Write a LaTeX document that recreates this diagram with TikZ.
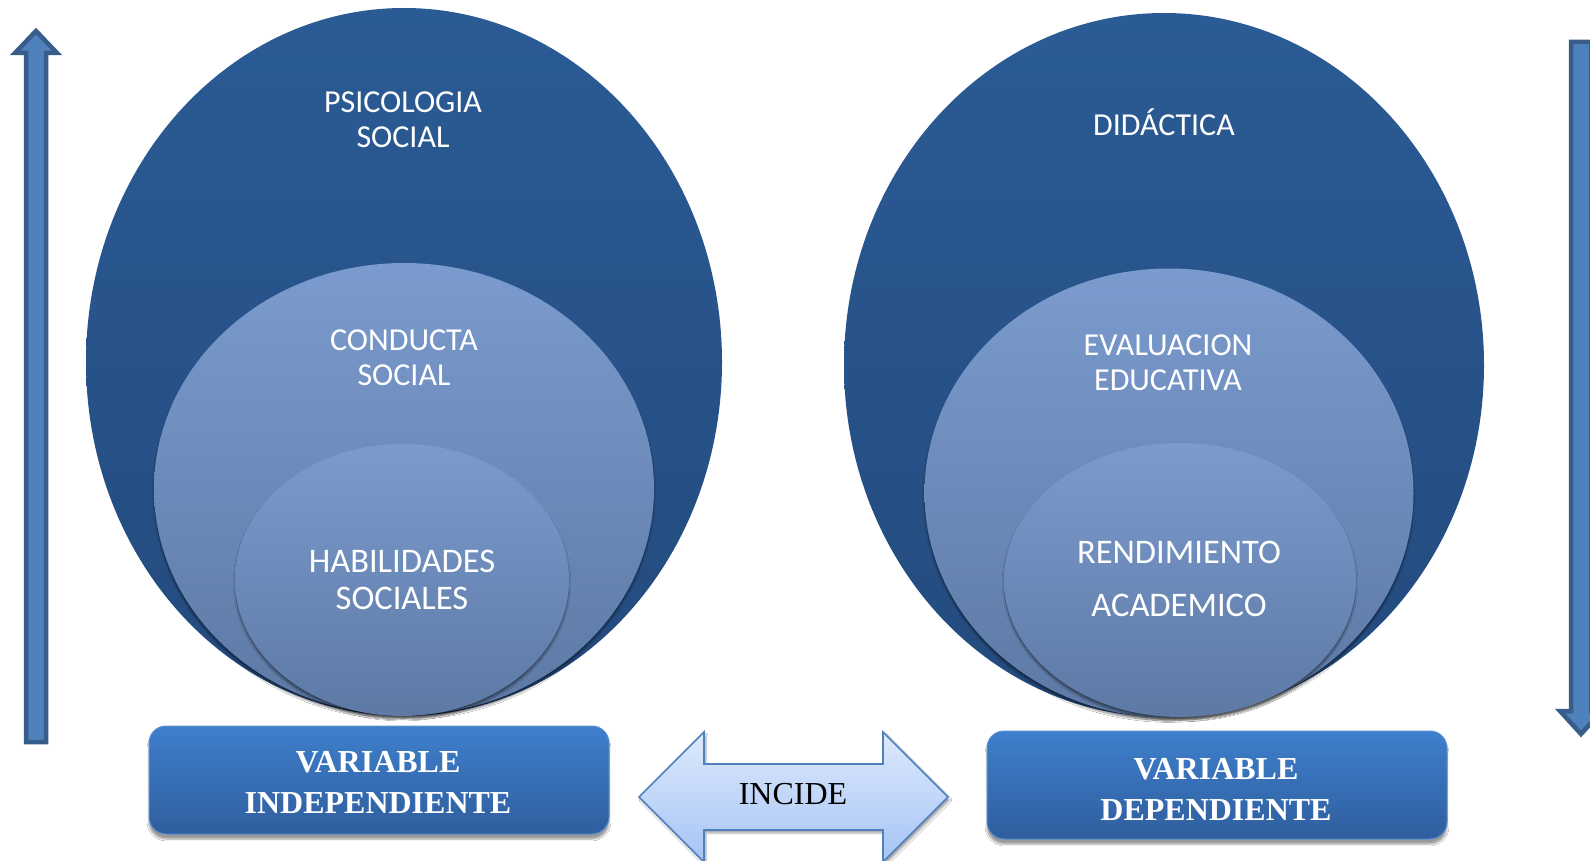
\documentclass[tikz,border=0pt]{standalone}
\usepackage{fontspec}
\setmainfont{Liberation Serif}
\newfontfamily\calib{Carlito}
\usetikzlibrary{shapes.geometric,shadows.blur}
\definecolor{outerTop}{HTML}{2B5B95}
\definecolor{outerBot}{HTML}{234A7D}
\definecolor{midTop}{HTML}{7B9BCE}
\definecolor{midBot}{HTML}{5D79A4}
\definecolor{boxTop}{HTML}{3E7FCC}
\definecolor{boxBot}{HTML}{2F5E9E}
\definecolor{boxLine}{HTML}{5B8FD0}
\definecolor{arrFill}{HTML}{4F81BD}
\definecolor{arrLine}{HTML}{385D8A}
\definecolor{incTop}{HTML}{DDE9FC}
\definecolor{incBot}{HTML}{A6C4F5}
\definecolor{incLine}{HTML}{4F81BD}
\begin{document}
\begin{tikzpicture}[x=1pt,y=-1pt,
  ellbase/.style={ellipse, inner sep=0pt, draw=none},
  bigell/.style={ellbase, top color=outerTop, bottom color=outerBot},
  midell/.style={ellbase, top color=midTop, bottom color=midBot,
     blur shadow={shadow xshift=0pt, shadow yshift=-3pt, shadow blur steps=6, shadow opacity=45}},
  lbl/.style={text=white, align=center, inner sep=0pt, font=\calib\fontsize{32}{35}\selectfont},
  varbox/.style={rectangle, rounded corners=17pt, minimum width=460pt, minimum height=108pt,
     top color=boxTop, bottom color=boxBot, draw=boxLine, line width=1pt,
     blur shadow={shadow xshift=0pt, shadow yshift=-5pt, shadow blur steps=6, shadow opacity=40}},
  vartext/.style={text=white, align=center, inner sep=0pt, font=\bfseries\fontsize{32}{41}\selectfont},
  bigarrow/.style={fill=arrFill, draw=arrLine, line width=4.5pt, line join=miter},
  incarrow/.style={top color=incTop, bottom color=incBot, draw=incLine, line width=1.6pt, line join=miter,
     blur shadow={shadow xshift=2pt, shadow yshift=-3pt, shadow blur steps=5, shadow opacity=35}}
]
\useasboundingbox (0,0) rectangle (1590,861);
\fill[white] (0,0) rectangle (1590,861);

% left vertical arrow (up)
\draw[bigarrow] (26,742) -- (26,53) -- (15,53) -- (36,31) -- (57,53) -- (46,53) -- (46,742) -- cycle;
% right vertical arrow (down)
\draw[bigarrow] (1571,42) -- (1571,711) -- (1560,711) -- (1581,734) -- (1602,711) -- (1591,711) -- (1591,42) -- cycle;

% left group of ellipses
\node[bigell, minimum width=636pt, minimum height=708pt] (psi) at (404,362) {};
\node[midell, minimum width=500pt, minimum height=452pt] (con) at (404,489) {};
\node[midell, minimum width=334pt, minimum height=272pt] (hab) at (402,580) {};
\node[lbl] (tpsi) at (403,120) {PSICOLOGIA\\SOCIAL};
\node[lbl] (tcon) at (404,358) {CONDUCTA\\SOCIAL};
\node[lbl, font=\calib\fontsize{34.5}{37}\selectfont] (thab) at (402,580) {HABILIDADES\\SOCIALES};

% right group of ellipses
\node[bigell, minimum width=640pt, minimum height=704pt] (did) at (1164,365) {};
\node[midell, minimum width=489pt, minimum height=449pt] (eva) at (1169,493) {};
\node[midell, minimum width=352pt, minimum height=274pt] (ren) at (1180,580) {};
\node[lbl] (tdid) at (1164,122) {DIDÁCTICA};
\node[lbl] (teva) at (1168,363) {EVALUACION\\EDUCATIVA};
\node[lbl, font=\calib\fontsize{34.5}{53}\selectfont] (tren) at (1179,579) {RENDIMIENTO\\ACADEMICO};

% variable boxes
\node[varbox] (vi) at (379,780) {};
\node[vartext] (tvi) at (378,782) {VARIABLE\\INDEPENDIENTE};
\node[varbox] (vd) at (1217,785) {};
\node[vartext] (tvd) at (1216,789) {VARIABLE\\DEPENDIENTE};

% INCIDE double arrow
\draw[incarrow] (639,797) -- (704,732) -- (704,764) -- (883,764) -- (883,732) -- (948,797)
   -- (883,862) -- (883,830) -- (704,830) -- (704,862) -- cycle;
\node[font=\fontsize{32}{36}\selectfont, inner sep=0pt] (inc) at (793,794) {INCIDE};
\end{tikzpicture}
\end{document}
